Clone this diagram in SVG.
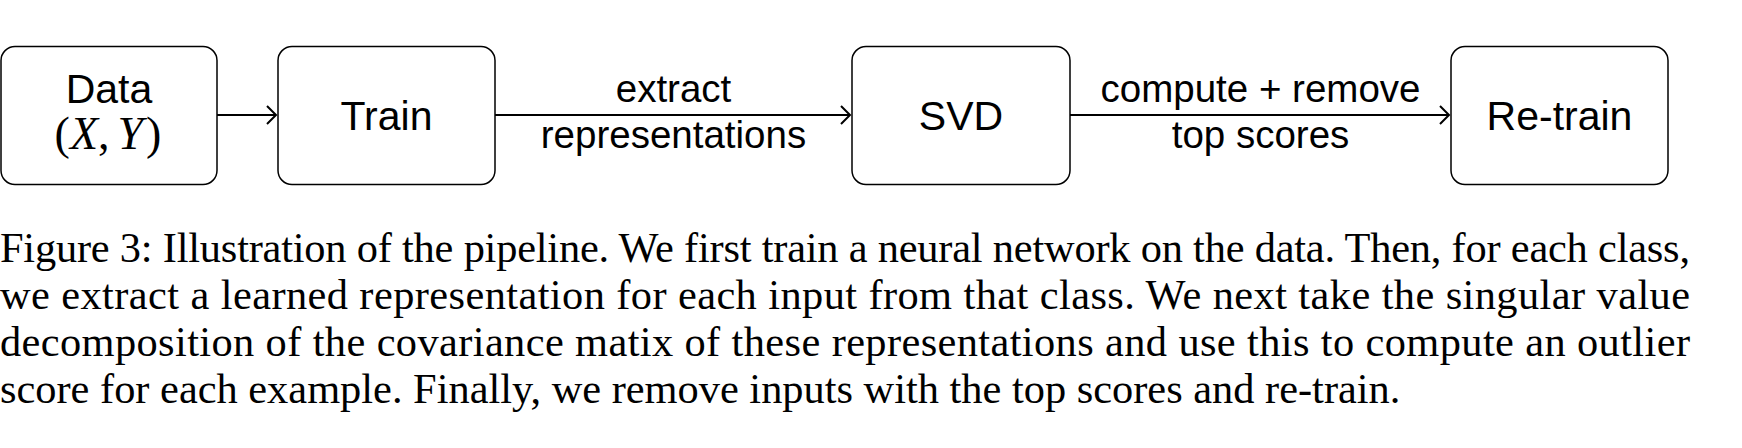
<svg xmlns="http://www.w3.org/2000/svg" width="1742" height="448" viewBox="0 0 1742 448">
<style>
.box{fill:#fff;stroke:#000;stroke-width:1.5}
.lbl{font-family:"Liberation Sans",Arial,sans-serif;font-size:41px;text-anchor:middle;fill:#000}
.elbl{font-family:"Liberation Sans",Arial,sans-serif;font-size:38.5px;text-anchor:middle;fill:#000}
.math{font-family:"Liberation Serif","Times New Roman",serif;font-size:46px;fill:#000}
.cap{font-family:"Liberation Serif","Times New Roman",serif;font-size:42.4px;fill:#000}
.edge{stroke:#000;stroke-width:2.2;fill:none}
</style>
<defs>
<marker id="arr" markerUnits="userSpaceOnUse" markerWidth="20" markerHeight="24" viewBox="-12 -12 14 24" refX="0" refY="0" orient="auto">
<path d="M -9 -9 Q -2 -2 0 0 Q -2 2 -9 9" fill="none" stroke="#000" stroke-width="2"/>
</marker>
</defs>
<g id="node-data">
<rect class="box" x="1" y="46.5" width="216" height="138" rx="14"/>
<text class="lbl" x="109" y="103">Data</text>
<text class="math" x="108" y="149" text-anchor="middle">(<tspan font-style="italic">X</tspan>,<tspan dx="8" font-style="italic">Y</tspan><tspan dx="3">)</tspan></text>
</g>
<g id="node-train">
<rect class="box" x="278" y="46.5" width="217" height="138" rx="14"/>
<text class="lbl" x="386.5" y="130">Train</text>
</g>
<g id="node-svd">
<rect class="box" x="852" y="46.5" width="218" height="138" rx="14"/>
<text class="lbl" x="961" y="130">SVD</text>
</g>
<g id="node-retrain">
<rect class="box" x="1451" y="46.5" width="217" height="138" rx="14"/>
<text class="lbl" x="1559.5" y="130">Re-train</text>
</g>
<g id="connectors">
<line class="edge" x1="217" y1="115" x2="276" y2="115" marker-end="url(#arr)"/>
<line class="edge" x1="495" y1="115" x2="850" y2="115" marker-end="url(#arr)"/>
<line class="edge" x1="1070" y1="115" x2="1449" y2="115" marker-end="url(#arr)"/>
<text class="elbl" x="673.5" y="102">extract</text>
<text class="elbl" x="673.5" y="148">representations</text>
<text class="elbl" x="1260.5" y="102">compute + remove</text>
<text class="elbl" x="1260.5" y="148">top scores</text>
</g>
<g id="caption">
<text class="cap" x="0" y="262" textLength="1690" lengthAdjust="spacing">Figure 3: Illustration of the pipeline. We first train a neural network on the data. Then, for each class,</text>
<text class="cap" x="0" y="309" textLength="1690" lengthAdjust="spacing">we extract a learned representation for each input from that class. We next take the singular value</text>
<text class="cap" x="0" y="356" textLength="1690" lengthAdjust="spacing">decomposition of the covariance matix of these representations and use this to compute an outlier</text>
<text class="cap" x="0" y="403">score for each example. Finally, we remove inputs with the top scores and re-train.</text>
</g>
</svg>
